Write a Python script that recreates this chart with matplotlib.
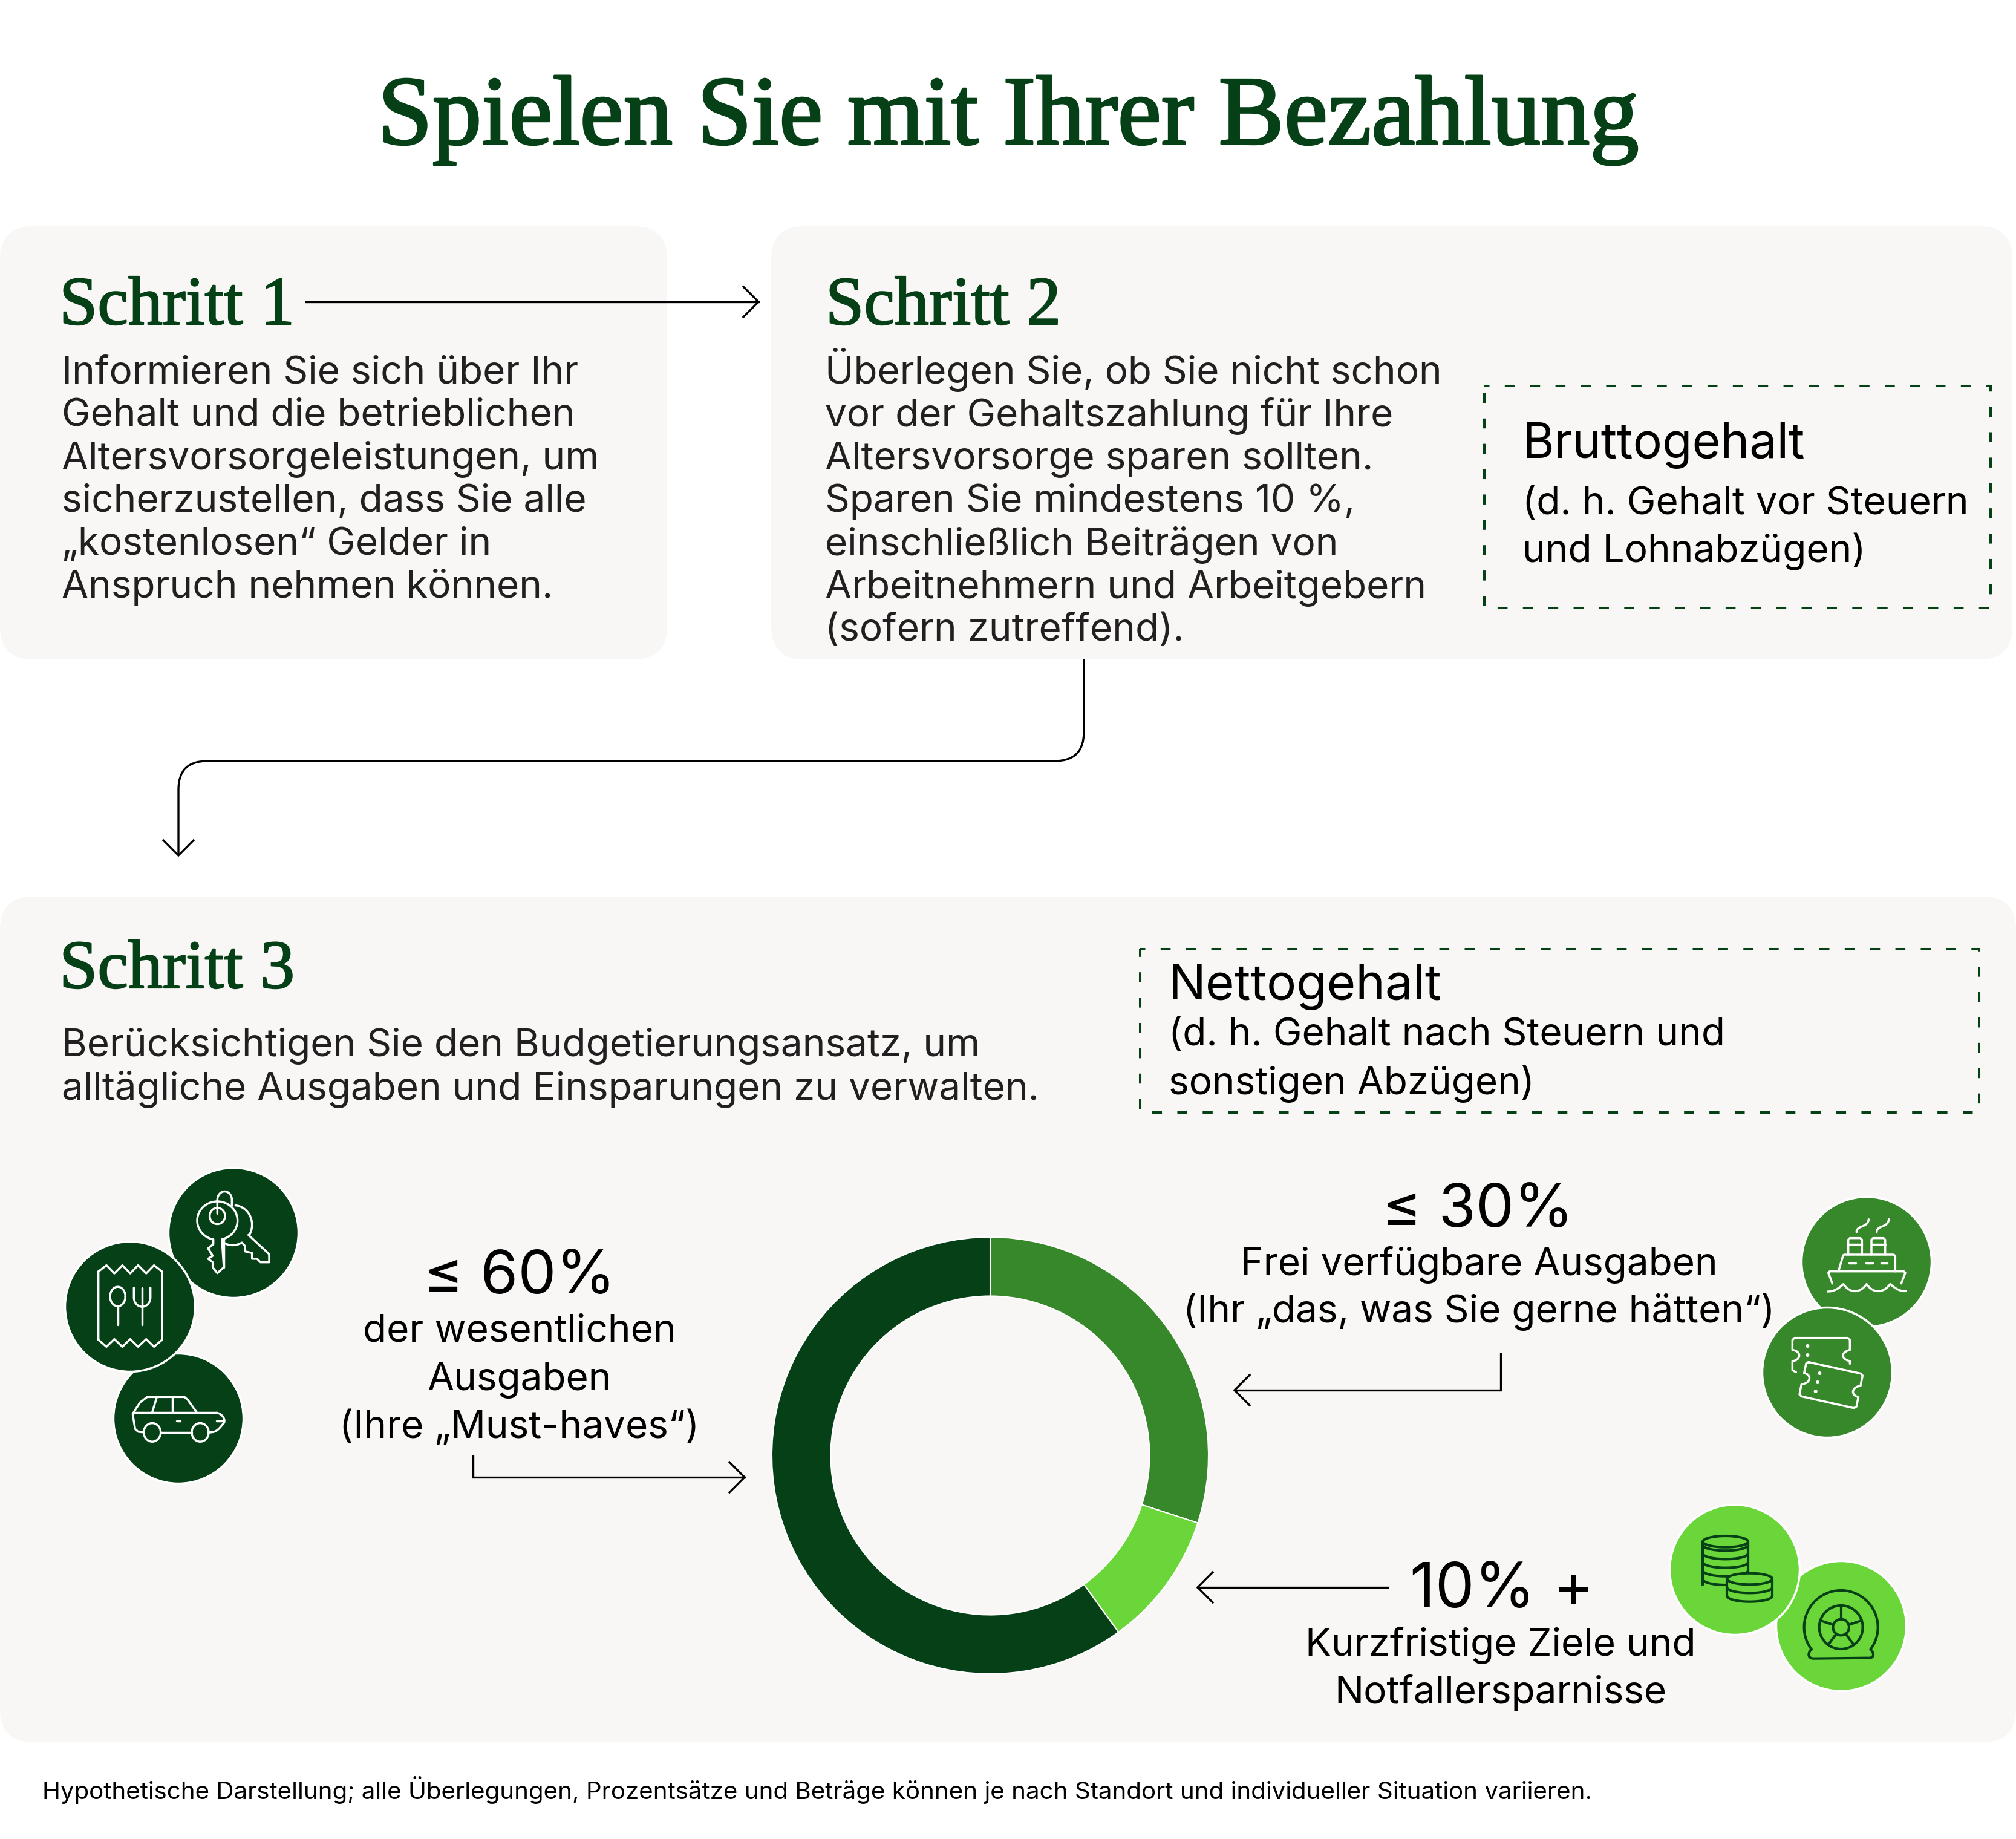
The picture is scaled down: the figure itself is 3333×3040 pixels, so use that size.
import matplotlib
matplotlib.use("Agg")
import matplotlib.pyplot as plt
import matplotlib.patheffects as pe
import numpy as np
from matplotlib.patches import Circle, FancyBboxPatch, PathPatch, Polygon, Rectangle
from matplotlib.path import Path

# Farben
DUNKEL = "#054016"
MITTEL = "#37882A"
HELL = "#6BD63A"
PANEL = "#F8F7F5"
SCHWARZ = "#000000"
GRAU = "#231F20"

# Daten
anteile = [30, 10, 60]
anteil_farben = [MITTEL, HELL, DUNKEL]

titel = "Spielen Sie mit Ihrer Bezahlung"
schritt1 = [
    "Informieren Sie sich über Ihr",
    "Gehalt und die betrieblichen",
    "Altersvorsorgeleistungen, um",
    "sicherzustellen, dass Sie alle",
    "„kostenlosen“ Gelder in",
    "Anspruch nehmen können.",
]
schritt2 = [
    "Überlegen Sie, ob Sie nicht schon",
    "vor der Gehaltszahlung für Ihre",
    "Altersvorsorge sparen sollten.",
    "Sparen Sie mindestens 10 %,",
    "einschließlich Beiträgen von",
    "Arbeitnehmern und Arbeitgebern",
    "(sofern zutreffend).",
]
schritt3 = [
    "Berücksichtigen Sie den Budgetierungsansatz, um",
    "alltägliche Ausgaben und Einsparungen zu verwalten.",
]
brutto = ["(d. h. Gehalt vor Steuern", "und Lohnabzügen)"]
netto = ["(d. h. Gehalt nach Steuern und", "sonstigen Abzügen)"]
text60 = ["der wesentlichen", "Ausgaben", "(Ihre „Must-haves“)"]
text30 = ["Frei verfügbare Ausgaben", "(Ihr „das, was Sie gerne hätten“)"]
text10 = ["Kurzfristige Ziele und", "Notfallersparnisse"]
fussnote = ("Hypothetische Darstellung; alle Überlegungen, Prozentsätze und Beträge "
            "können je nach Standort und individueller Situation variieren.")

B, H = 3333, 3040
SANS = ["Inter", "DejaVu Sans"]
SLAB = ["Liberation Serif", "DejaVu Serif"]

fig = plt.figure(figsize=(B / 100, H / 100), dpi=100, facecolor="white")
ax = fig.add_axes([0, 0, 1, 1])
ax.set_xlim(0, B)
ax.set_ylim(H, 0)
ax.axis("off")


def text(x, y, s, size, ha="left", color=SCHWARZ):
    ax.text(x, y, s, fontsize=size, ha=ha, va="baseline", color=color, family=SANS, zorder=5)


def slab(x, y, s, size, ha="left", stroke=1.6):
    t = ax.text(x, y, s, fontsize=size, ha=ha, va="baseline", color=DUNKEL, family=SLAB, zorder=5)
    t.set_path_effects([pe.withStroke(linewidth=stroke, foreground=DUNKEL)])


def panel(x0, y0, x1, y1):
    r = 55
    ax.add_patch(FancyBboxPatch((x0 + r, y0 + r), x1 - x0 - 2 * r, y1 - y0 - 2 * r,
                                boxstyle=f"round,pad={r},rounding_size={r}",
                                fc=PANEL, ec="none", zorder=1))


def gestrichelt(x0, y0, x1, y1):
    ax.add_patch(Rectangle((x0, y0), x1 - x0, y1 - y0, fill=False, ec=DUNKEL, lw=2.9,
                           ls=(2, (4.1, 6.3)), zorder=3))


def spitze(x, y, richtung):
    # offene Pfeilspitze
    g = 25
    if richtung == "r":
        xs, ys = [x - g, x, x - g], [y - g, y, y + g]
    elif richtung == "l":
        xs, ys = [x + g, x, x + g], [y - g, y, y + g]
    else:
        xs, ys = [x - g, x, x + g], [y - g, y, y - g]
    ax.plot(xs, ys, color="black", lw=2.4, zorder=4, solid_joinstyle="miter")


def linie(xs, ys):
    ax.plot(xs, ys, color="black", lw=2.4, zorder=4, solid_joinstyle="miter")


panel(0, 374, 1103, 1090)
panel(1275, 374, 3327, 1090)
panel(0, 1482, 3333, 2880)
gestrichelt(2454, 638, 3291, 1005)
gestrichelt(1885, 1569, 3272, 1839)

# Titel
slab(1667, 238, titel, 117, ha="center", stroke=2.5)

# Schritt 1
slab(98, 536, "Schritt 1", 82)
for i, z in enumerate(schritt1):
    text(102, 633 + 71 * i, z, 46, color=GRAU)
linie([506, 1254], [499, 499])
spitze(1254, 499, "r")

# Schritt 2
slab(1365, 536, "Schritt 2", 82)
for i, z in enumerate(schritt2):
    text(1364, 633 + 71 * i, z, 46, color=GRAU)
text(2517, 757, "Bruttogehalt", 58)
text(2517, 850, brutto[0], 46)
text(2517, 929, brutto[1], 46)

# Verbindung Schritt 2 -> 3
wege = [(1792, 1090), (1792, 1210), (1792, 1258), (1744, 1258), (342, 1258), (295, 1258),
        (295, 1305), (295, 1414)]
codes = [Path.MOVETO, Path.LINETO, Path.CURVE3, Path.CURVE3, Path.LINETO, Path.CURVE3,
         Path.CURVE3, Path.LINETO]
ax.add_patch(PathPatch(Path(wege, codes), fill=False, ec="black", lw=2.4, zorder=4))
spitze(295, 1414, "u")

# Schritt 3
slab(98, 1633, "Schritt 3", 82)
for i, z in enumerate(schritt3):
    text(102, 1745 + 72 * i, z, 46, color=GRAU)
text(1932, 1652, "Nettogehalt", 59)
text(1932, 1728, netto[0], 46)
text(1932, 1809, netto[1], 46)

# Ring
cx, cy, ra = 1637, 2406, 361
ring = fig.add_axes([(cx - ra) / B, 1 - (cy + ra) / H, 2 * ra / B, 2 * ra / H])
ring.pie(anteile, colors=anteil_farben, startangle=90, counterclock=False, radius=1,
         wedgeprops={"width": 0.27, "edgecolor": "white", "linewidth": 1.5})
ring.set_xlim(-1, 1)
ring.set_ylim(-1, 1)
ring.patch.set_alpha(0)

# Beschriftungen am Ring
text(859, 2138, "≤ 60%", 72, ha="center")
for i, z in enumerate(text60):
    text(859, 2217 + 80 * i, z, 46, ha="center")
linie([782, 782, 1231], [2407, 2442, 2442])
spitze(1231, 2442, "r")

text(2443, 2028, "≤ 30%", 72, ha="center")
for i, z in enumerate(text30):
    text(2445, 2107 + 79 * i, z, 46, ha="center")
linie([2481, 2481, 2041], [2238, 2298, 2298])
spitze(2041, 2298, "l")

text(2483, 2657, "10% +", 74, ha="center")
for i, z in enumerate(text10):
    text(2481, 2736 + 80 * i, z, 46, ha="center")
linie([2294, 1980], [2624, 2624])
spitze(1980, 2624, "l")

text(70, 2974, fussnote, 29)

# Icons: Koordinaten aus dem Ausschnitt, ox/oy = linke obere Ecke, sy = Massstab in y
sy = 3


def kreis(x, y, farbe, z):
    ax.add_patch(Circle((x, y), 107.5, fc=farbe, ec="white", lw=2.5, zorder=z))


def strich(punkte, ox, oy, farbe, z=7, lw=2.5):
    p = np.array(punkte, dtype=float)
    ax.plot(ox + p[:, 0] / 3, oy + p[:, 1] / sy, color=farbe, lw=lw, zorder=z,
            solid_capstyle="round", solid_joinstyle="round")


def bogen(mx, my, rx, ry, von=0, bis=360):
    # Winkel in Grad, y nach unten
    t = np.radians(np.linspace(von, bis, 60))
    return np.column_stack([mx + rx * np.cos(t), my + ry * np.sin(t)])


def bez(p0, p1, p2, p3):
    t = np.linspace(0, 1, 30)[:, None]
    p0, p1, p2, p3 = map(np.array, (p0, p1, p2, p3))
    return (1 - t) ** 3 * p0 + 3 * (1 - t) ** 2 * t * p1 + 3 * (1 - t) * t ** 2 * p2 + t ** 3 * p3


# dunkle Gruppe
ox, oy = 60, 1880
sy = 1568 / 600
kreis(386, 2038, DUNKEL, 6)
kreis(295, 2345, DUNKEL, 6)
kreis(215, 2160, DUNKEL, 8)

# Schlüssel
W = "white"
strich(np.vstack([bogen(898, 360, 100, 83, 103, 437),
                  [(930, 562), (898, 587), (875, 562), (875, 540), (852, 525), (875, 512),
                   (852, 480), (878, 462), (878, 441)]]), ox, oy, W)
strich([(930, 441), (930, 562)], ox, oy, W)
strich(bogen(898, 340, 38, 35), ox, oy, W)
strich(np.vstack([[(898, 330)], bogen(934, 270, 36, 36, 180, 360), [(970, 296)]]), ox, oy, W)
strich(np.vstack([bogen(980, 378, 90, 84, -85, 30),
                  [(1052, 422), (1155, 505), (1155, 540), (1112, 540), (1095, 525), (1070, 525),
                   (1070, 500), (1035, 493), (1035, 470), (1020, 455)],
                  bez((1020, 455), (990, 470), (955, 470), (930, 455))]), ox, oy, W)

# Beleg mit Besteck
zacken = [(308, 580), (348, 553), (387, 588), (427, 553), (466, 588), (505, 553), (545, 588),
          (584, 553), (624, 580), (624, 875), (584, 905), (545, 872), (505, 905), (466, 872),
          (427, 905), (387, 872), (348, 905), (308, 875), (308, 580)]
strich(zacken, ox, oy, W, z=9)
strich(bogen(404, 688, 38, 42), ox, oy, W, z=9)
strich([(404, 730), (404, 810)], ox, oy, W, z=9)
strich([(524, 650), (524, 810)], ox, oy, W, z=9)
strich(np.vstack([[(484, 650)], bogen(525, 692, 41, 40, 180, 0), [(566, 650)]]), ox, oy, W, z=9)

# Auto
strich([(480, 1190), (895, 1190)], ox, oy, W)
strich(np.vstack([bez((895, 1190), (925, 1195), (945, 1225), (925, 1240)),
                  bez((925, 1240), (905, 1260), (895, 1275), (858, 1275))]), ox, oy, W)
strich([(770, 1275), (620, 1275)], ox, oy, W)
strich([(532, 1275), (505, 1272), (490, 1260), (478, 1195), (515, 1145), (550, 1122),
        (735, 1122), (752, 1135), (795, 1188)], ox, oy, W)
strich([(597, 1125), (575, 1188)], ox, oy, W)
strich([(675, 1122), (675, 1188)], ox, oy, W)
strich(bogen(575, 1275, 42, 40), ox, oy, W)
strich(bogen(813, 1275, 42, 40), ox, oy, W)
strich([(697, 1225), (713, 1225)], ox, oy, W)
strich([(893, 1225), (928, 1225)], ox, oy, W)

# mittlere Gruppe
ox, oy = 2700, 1950
sy = 3
kreis(3086, 2086, MITTEL, 6)
kreis(3021, 2269, MITTEL, 8)

# Schiff
for x0 in (1067, 1182):
    strich([(x0, 372), (x0, 298), (x0 + 8, 290), (x0 + 60, 290), (x0 + 68, 298), (x0 + 68, 372)],
           ox, oy, W)
    strich([(x0, 322), (x0 + 68, 322)], ox, oy, W)
strich([(1018, 455), (1042, 375), (1048, 372), (1292, 372), (1300, 378), (1300, 455)], ox, oy, W)
for a, b in ((1072, 1103), (1156, 1187), (1231, 1261)):
    strich([(a, 413), (b, 413)], ox, oy, W)
strich([(988, 515), (968, 462), (975, 455), (1343, 455), (1350, 462), (1330, 515)], ox, oy, W)
strich(np.vstack([bez((965, 555), (1000, 555), (1025, 535), (1043, 518)),
                  bez((1043, 518), (1075, 565), (1125, 565), (1158, 518)),
                  bez((1158, 518), (1190, 565), (1240, 565), (1275, 518)),
                  bez((1275, 518), (1295, 535), (1320, 555), (1352, 553))]), ox, oy, W)
for dx in (0, 100):
    strich(bez((1108 + dx, 260), (1108 + dx, 225), (1165 + dx, 240), (1168 + dx, 197)), ox, oy, W)

# Tickets
ticket1 = np.vstack([[(1075, 913), (1075, 900)], bez((1075, 900), (1030, 890), (1030, 855), (1075, 845)),
                     [(1075, 795), (1065, 785), (800, 785), (790, 795), (790, 845)],
                     bez((790, 845), (835, 850), (835, 895), (790, 900)),
                     [(790, 945), (808, 955)]])
strich(ticket1, ox, oy, W, z=9)
ticket2 = np.vstack([[(870, 905), (1130, 962), (1138, 972), (1128, 1022)],
                     bez((1128, 1022), (1080, 1030), (1080, 1070), (1117, 1078)),
                     [(1108, 1125), (1095, 1133), (835, 1075), (825, 1065), (835, 1015)],
                     bez((835, 1015), (885, 1010), (885, 965), (848, 960)),
                     [(858, 912), (870, 905)]])
strich(ticket2, ox, oy, W, z=9)
for px, py in [(865, 825), (865, 870), (925, 960), (915, 1005), (905, 1050)]:
    ax.add_patch(Circle((ox + px / 3, oy + py / 3), 3, fc=W, ec="none", zorder=9))

# helle Gruppe
ox, oy = 2720, 2450
kreis(3044, 2688, HELL, 6)
kreis(2868, 2595, HELL, 8)

# Rad
strich(np.vstack([bogen(971, 720, 183, 183, 143, 397),
                  bez((1118, 830), (1145, 860), (1125, 875), (1105, 872)),
                  bez((835, 875), (815, 875), (800, 860), (822, 830))]), ox, oy, DUNKEL, lw=3)
strich(bogen(971, 720, 108, 108), ox, oy, DUNKEL, lw=3)
strich(bogen(971, 720, 40, 40), ox, oy, DUNKEL, lw=3)
for w in (-90, -18, 54, 126, 198):
    c, s = np.cos(np.radians(w)), np.sin(np.radians(w))
    strich([(971 + 40 * c, 720 + 40 * s), (971 + 108 * c, 720 + 108 * s)], ox, oy, DUNKEL, lw=3)

# Münzen
strich(bogen(398, 295, 112, 28), ox, oy, DUNKEL, z=9, lw=3)
for yy in (340, 382, 425, 467, 510):
    strich(bogen(398, yy - 28, 112, 28, 0, 180), ox, oy, DUNKEL, z=9, lw=3)
strich([(286, 295), (286, 510)], ox, oy, DUNKEL, z=9, lw=3)
strich([(510, 295), (510, 450)], ox, oy, DUNKEL, z=9, lw=3)
flaeche = np.vstack([bogen(518, 480, 112, 28, 180, 360), bogen(518, 565, 112, 28, 0, 180)])
ax.add_patch(Polygon(np.column_stack([ox + flaeche[:, 0] / 3, oy + flaeche[:, 1] / 3]),
                     fc=HELL, ec="none", zorder=10))
strich(bogen(518, 480, 112, 28), ox, oy, DUNKEL, z=11, lw=3)
for yy in (522, 565):
    strich(bogen(518, yy, 112, 28, 0, 180), ox, oy, DUNKEL, z=11, lw=3)
strich([(406, 480), (406, 565)], ox, oy, DUNKEL, z=11, lw=3)
strich([(630, 480), (630, 565)], ox, oy, DUNKEL, z=11, lw=3)

fig.savefig("out.png", dpi=100, facecolor="white")
